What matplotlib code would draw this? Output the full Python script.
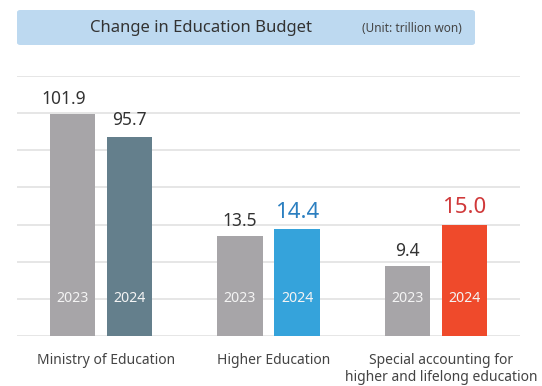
import numpy as np
import matplotlib
matplotlib.use('Agg')
import matplotlib.pyplot as plt
from matplotlib.patches import FancyBboxPatch

plt.rcParams['font.family'] = ['Noto Sans', 'DejaVu Sans']

categories = ['Ministry of Education', 'Higher Education',
              'Special accounting for\nhigher and lifelong education']
budget_2023 = [101.9, 13.5, 9.4]
budget_2024 = [95.7, 14.4, 15.0]
year_labels = ['2023', '2024']

gray = '#A7A5A8'
colors_2024 = ['#647F8C', '#35A3DB', '#EF4A2B']
label_colors_2024 = ['#333333', '#2B7FC0', '#D0393A']

# compressed value axis: linear up to 20, squeezed between 20 and 90
knots_val = [0, 20, 90, 120]
knots_disp = [0, 20, 24, 39]

def fwd(v):
    return np.interp(v, knots_val, knots_disp)

def inv(d):
    return np.interp(d, knots_disp, knots_val)

fig = plt.figure(figsize=(5.42, 3.86), dpi=100)
ax = fig.add_axes([17 / 542, 50 / 386, 503 / 542, 260 / 386])
ax.set_yscale('function', functions=(fwd, inv))

x = np.arange(len(categories))
w = 0.269
off = 0.17

ax.set_yticks(inv(np.arange(0, 36, 5)))
ax.set_ylim(0, inv(35))
ax.set_xlim(-0.5, 2.5)
ax.yaxis.grid(True, color='#E2E2E2', lw=1.2)
ax.set_axisbelow(True)
for s in ax.spines.values():
    s.set_visible(False)
ax.tick_params(left=False, bottom=False, labelleft=False, labelbottom=False)

ax.bar(x - off, budget_2023, w, color=gray)
ax.bar(x + off, budget_2024, w, color=colors_2024)

dx_2023 = [-6.5, 0, 0]
for i in range(len(categories)):
    ax.annotate(f'{budget_2023[i]:.1f}', (x[i] - off, budget_2023[i]),
                xytext=(dx_2023[i], 7), textcoords='offset points',
                ha='center', va='baseline', fontsize=12.5, color='#333333')
    big = i > 0
    ax.annotate(f'{budget_2024[i]:.1f}', (x[i] + off, budget_2024[i]),
                xytext=(0, 8), textcoords='offset points',
                ha='center', va='baseline', fontsize=16 if big else 12.5,
                color=label_colors_2024[i])
    ax.text(x[i] - off, 5, year_labels[0], ha='center', va='center',
            fontsize=10.2, color='#F4F4F4')
    ax.text(x[i] + off, 5, year_labels[1], ha='center', va='center',
            fontsize=10.2, color='#F4F4F4')
    ax.text(x[i] + 0.03, -0.064, categories[i], transform=ax.get_xaxis_transform(),
            ha='center', va='top', fontsize=10, color='#444444', linespacing=1.2)

# title banner
box = FancyBboxPatch((17 / 542, 341 / 386), 458 / 542, 35 / 386,
                     boxstyle='round,pad=0,rounding_size=0.006',
                     transform=fig.transFigure, facecolor='#BDD9F0',
                     edgecolor='none')
fig.patches.append(box)
fig.text(201 / 542, 358 / 386, 'Change in Education Budget', ha='center',
         va='center', fontsize=12, color='#333333')
fig.text(412 / 542, 357 / 386, '(Unit: trillion won)', ha='center',
         va='center', fontsize=8.5, color='#444444')

fig.savefig('out.png', dpi=100)
